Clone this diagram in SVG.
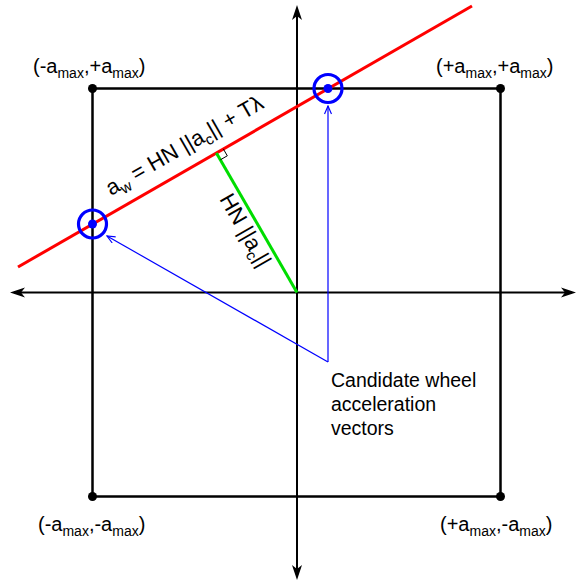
<svg xmlns="http://www.w3.org/2000/svg" width="577" height="582" viewBox="0 0 577 582">
<defs>
<style>
text{font-family:"Liberation Sans",Arial,sans-serif;font-size:20px;fill:#000}
.sub{font-size:14px}
.rot{font-size:22px}
.rot .sub{font-size:15px}
.axis{stroke:#000;stroke-width:2;fill:none}
.box{stroke:#000;stroke-width:2.5;fill:none}
.blue{stroke:#0000ff;stroke-width:1.2;fill:none}
.ring{stroke:#0000ff;stroke-width:3.2;fill:none}
</style>
<marker id="ax" viewBox="0 0 16 12" refX="11" refY="6" markerWidth="16" markerHeight="12" markerUnits="userSpaceOnUse" orient="auto-start-reverse">
<path d="M0,1 L15,6 L0,11 L4,6 Z" fill="#000"/>
</marker>
<marker id="bl" viewBox="0 0 10 8" refX="9" refY="4" markerWidth="10" markerHeight="8" markerUnits="userSpaceOnUse" orient="auto">
<path d="M1,0.5 L9,4 L1,7.5" fill="none" stroke="#0000ff" stroke-width="1.2"/>
</marker>
</defs>
<g id="square">
<rect class="box" x="92.5" y="88.5" width="408" height="408"/>
<circle cx="92.5" cy="88.5" r="4.5"/>
<circle cx="500.5" cy="88.5" r="4.5"/>
<circle cx="92.5" cy="496.5" r="4.5"/>
<circle cx="500.5" cy="496.5" r="4.5"/>
</g>
<g id="connectors">
<line class="axis" x1="14" y1="292.5" x2="572" y2="292.5" marker-start="url(#ax)" marker-end="url(#ax)"/>
<line class="axis" x1="297" y1="9" x2="297" y2="576" marker-start="url(#ax)" marker-end="url(#ax)"/>
<line x1="18" y1="267" x2="472" y2="6" stroke="#ff0000" stroke-width="3"/>
<line x1="297" y1="292.5" x2="216.4" y2="152.9" stroke="#00dd00" stroke-width="3"/>
<polyline points="223.3,148.9 227.3,155.8 220.4,159.8" fill="none" stroke="#000" stroke-width="1"/>
<line class="blue" x1="328" y1="362" x2="107" y2="236" marker-end="url(#bl)"/>
<line class="blue" x1="328" y1="362" x2="328" y2="106" marker-end="url(#bl)"/>
</g>
<g id="candidate-left">
<circle class="ring" cx="92.5" cy="224" r="14"/>
<circle cx="92.5" cy="224" r="4.5" fill="#0000ff"/>
</g>
<g id="candidate-top">
<circle class="ring" cx="328" cy="88.5" r="14"/>
<circle cx="328" cy="88.5" r="4.5" fill="#0000ff"/>
</g>
<g id="labels">
<text x="33" y="73">(-a<tspan class="sub" dy="5">max</tspan><tspan dy="-5">,+a</tspan><tspan class="sub" dy="5">max</tspan><tspan dy="-5">)</tspan></text>
<text x="436" y="73">(+a<tspan class="sub" dy="5">max</tspan><tspan dy="-5">,+a</tspan><tspan class="sub" dy="5">max</tspan><tspan dy="-5">)</tspan></text>
<text x="38" y="531">(-a<tspan class="sub" dy="5">max</tspan><tspan dy="-5">,-a</tspan><tspan class="sub" dy="5">max</tspan><tspan dy="-5">)</tspan></text>
<text x="440" y="531">(+a<tspan class="sub" dy="5">max</tspan><tspan dy="-5">,-a</tspan><tspan class="sub" dy="5">max</tspan><tspan dy="-5">)</tspan></text>
<text class="rot" transform="translate(111,196) rotate(-29.9)">a<tspan class="sub" dy="5">w</tspan><tspan dy="-5"> = HN ||a</tspan><tspan class="sub" dy="5">c</tspan><tspan dy="-5">|| + Tλ</tspan></text>
<text class="rot" transform="translate(219,199) rotate(60.1)">HN ||a<tspan class="sub" dy="5">c</tspan><tspan dy="-5">||</tspan></text>
<text x="331" y="387" style="font-size:19.5px">Candidate wheel</text>
<text x="331" y="411" style="font-size:19.5px">acceleration</text>
<text x="331" y="435" style="font-size:19.5px">vectors</text>
</g>
</svg>
